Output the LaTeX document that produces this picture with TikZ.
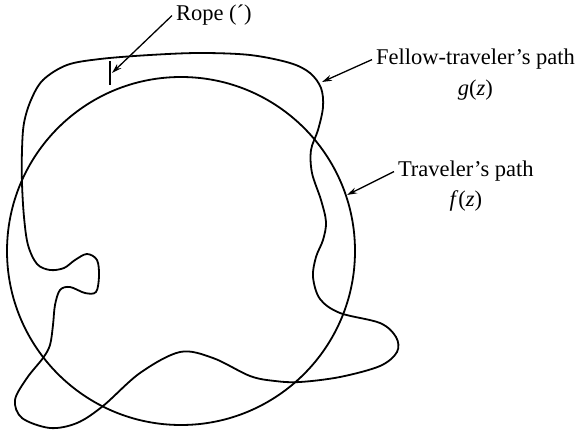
\documentclass[tikz,border=0pt]{standalone}
\usepackage{fontspec}
\setmainfont{Liberation Serif}
\usetikzlibrary{arrows.meta}

\tikzset{
  pathline/.style={line width=1.8pt, line join=round},
  pointer/.style={line width=1.3pt, -{Stealth[length=10pt,width=6pt]}},
  lbl/.style={inner sep=0pt, outer sep=4pt, font=\fontsize{22.5}{27}\selectfont},
}

\begin{document}
\begin{tikzpicture}[x=1pt, y=-1pt]
    \useasboundingbox (0,0) rectangle (585,430);

    % traveler's path f(z)
    \draw[pathline] (181,251) circle (174pt);

    % fellow-traveler's path g(z)
    \draw[pathline] plot[smooth cycle, tension=0.55] coordinates {
        (43,80) (67,65) (100,59) (150,55) (200,53) (250,55) (290,63)
        (310,73) (321,88) (323,107) (318,130) (311,150) (312,173)
        (321,200) (326,222) (323,240) (316,257) (313,277) (320,299)
        (340,313) (380,323) (396,337) (397,352) (380,366) (340,377)
        (300,382) (275,381) (250,376) (213,358) (180,352) (140,373)
        (103,406) (77,423) (50,428) (22,418) (15,400) (27,378)
        (43,358) (50,345) (53,325) (55,305) (60,290) (70,287)
        (85,293) (96,292) (99,276) (97,260) (87,254) (75,260)
        (64,268) (50,270) (37,264) (28,245) (24,217) (22,183)
        (22,150) (24,123) (31,100)
    };

    % rope
    \draw[pathline] (110,61) -- (110,85);

    \node[lbl, anchor=base west] (rope) at (172,21) {Rope (´)};
    \node[lbl, anchor=base west] (fellow) at (372,65) {Fellow-traveler’s path};
    \node[lbl, anchor=base] (gz) at ([yshift=-31pt]fellow.base) {\textit{g}(\textit{z})};
    \node[lbl, anchor=base west] (traveler) at (394,177) {Traveler’s path};
    \node[lbl, anchor=base] (fz) at ([yshift=-29pt]traveler.base) {\textit{f}(\textit{z})};

    \coordinate (ropetip) at (112,73);
    \coordinate (gtip) at (322,82);
    \coordinate (ftip) at (347,195);

    \draw[pointer] (rope.west) -- (ropetip);
    \draw[pointer] (fellow.west) -- (gtip);
    \draw[pointer] (traveler.west) -- (ftip);
\end{tikzpicture}
\end{document}
